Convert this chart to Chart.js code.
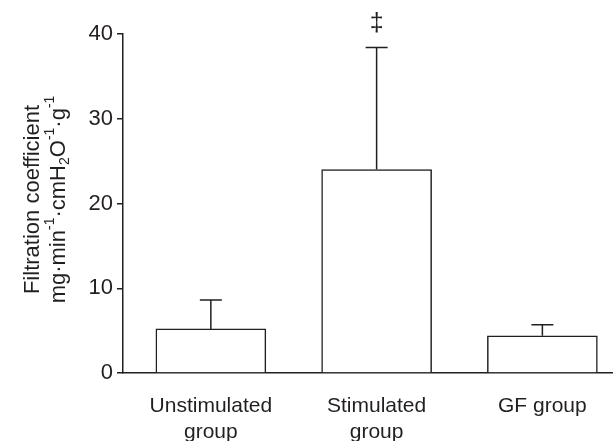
<!DOCTYPE html>
<html>
<head>
<meta charset="utf-8">
<script src="https://cdn.jsdelivr.net/npm/chart.js@4"></script>
<style>
  html, body { margin: 0; padding: 0; background: #fff; }
  #wrap { width: 613px; height: 441px; }
</style>
</head>
<body>
<div id="wrap"><canvas id="fcChart" width="613" height="441"></canvas></div>
<script>
const categories = [["Unstimulated", "group"], ["Stimulated", "group"], ["GF group"]];
const means = [5.2, 24.0, 4.4];
const sds = [3.4, 14.4, 1.3];
const marks = ["", "\u2021", ""];
const yTicks = [0, 10, 20, 30, 40];
const titleLine1 = "Filtration coefficient";
// pieces of the unit line: [text, "sup" | "sub" | ""]
const titleLine2 = [["mg\u00b7min", ""], ["-1", "sup"], ["\u00b7cmH", ""], ["2", "sub"], ["O", ""], ["-1", "sup"], ["\u00b7g", ""], ["-1", "sup"]];

const FONT = "'Liberation Sans', Arial, sans-serif";
const INK = "#231f20";

const errorBars = {
  id: "errorBars",
  afterDatasetsDraw(chart) {
    const { ctx, scales: { x, y } } = chart;
    ctx.save();
    ctx.strokeStyle = INK;
    ctx.lineWidth = 1.5;
    means.forEach((m, i) => {
      const px = x.getPixelForValue(i);
      const top = y.getPixelForValue(m + sds[i]);
      ctx.beginPath();
      ctx.moveTo(px, y.getPixelForValue(m));
      ctx.lineTo(px, top);
      ctx.moveTo(px - 11, top);
      ctx.lineTo(px + 11, top);
      ctx.stroke();
      if (marks[i]) {
        ctx.fillStyle = INK;
        ctx.font = "25px " + FONT;
        ctx.textAlign = "center";
        ctx.textBaseline = "middle";
        ctx.fillText(marks[i], px, top - 23);
      }
    });
    ctx.restore();
  }
};

const yTitle = {
  id: "yTitle",
  afterDraw(chart) {
    const { ctx, chartArea } = chart;
    const cy = (chartArea.top + chartArea.bottom) / 2 - 4;
    const size = 22;
    ctx.save();
    ctx.fillStyle = INK;
    ctx.textBaseline = "middle";
    ctx.textAlign = "left";
    // line 1
    ctx.save();
    ctx.translate(33, cy);
    ctx.rotate(-Math.PI / 2);
    ctx.font = size + "px " + FONT;
    ctx.fillText(titleLine1, -ctx.measureText(titleLine1).width / 2, 0);
    ctx.restore();
    // line 2 with super/subscripts
    ctx.save();
    ctx.translate(59, cy);
    ctx.rotate(-Math.PI / 2);
    const small = Math.round(size * 0.62);
    const widths = titleLine2.map(([t, k]) => {
      ctx.font = (k ? small : size) + "px " + FONT;
      return ctx.measureText(t).width;
    });
    let cx = -widths.reduce((a, b) => a + b, 0) / 2;
    titleLine2.forEach(([t, k], i) => {
      ctx.font = (k ? small : size) + "px " + FONT;
      const dy = k === "sup" ? -size * 0.38 : k === "sub" ? size * 0.28 : 0;
      ctx.fillText(t, cx, dy);
      cx += widths[i];
    });
    ctx.restore();
    ctx.restore();
  }
};

const ctx = document.getElementById("fcChart").getContext("2d");
const chart = new Chart(ctx, {
  type: "bar",
  data: {
    datasets: [{
      data: means.map((v, i) => ({ x: i, y: v })),
      backgroundColor: "#ffffff",
      borderColor: INK,
      borderWidth: 1.5,
      borderSkipped: "bottom",
      barThickness: 110
    }]
  },
  options: {
    responsive: false,
    animation: false,
    events: [],
    layout: { padding: { top: 34, right: 1, bottom: 0, left: 0 } },
    plugins: { legend: { display: false }, tooltip: { enabled: false } },
    scales: {
      x: {
        type: "linear",
        offset: false,
        min: -0.53,
        max: 2.42,
        afterBuildTicks: (axis) => { axis.ticks = categories.map((c, i) => ({ value: i })); },
        afterFit: (axis) => { axis.height = 68; },
        grid: { display: false, drawTicks: false, offset: false },
        border: { display: true, color: INK, width: 1.5 },
        ticks: {
          color: INK,
          font: { family: FONT, size: 21, lineHeight: 1.25 },
          padding: 20,
          maxRotation: 0,
          callback: (v) => categories[v]
        }
      },
      y: {
        min: 0,
        max: 40,
        afterBuildTicks: (axis) => { axis.ticks = yTicks.map((v) => ({ value: v })); },
        afterFit: (axis) => { axis.width = 123; },
        grid: { display: true, drawOnChartArea: false, drawTicks: true, tickLength: 6, color: INK, lineWidth: 1.5 },
        border: { display: true, color: INK, width: 1.5 },
        ticks: {
          color: INK,
          font: { family: FONT, size: 22 },
          padding: 4
        }
      }
    }
  },
  plugins: [errorBars, yTitle]
});
</script>
</body>
</html>
